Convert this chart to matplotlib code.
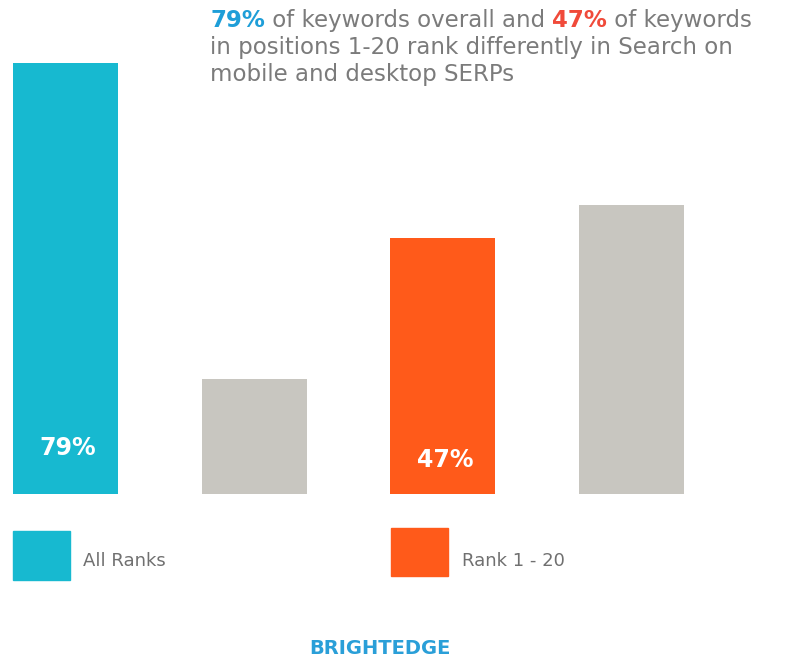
import matplotlib
matplotlib.use("Agg")
import matplotlib.pyplot as plt
from matplotlib.patches import Rectangle

plt.rcParams["font.family"] = ["DejaVu Sans"]

categories = ["All Ranks", "All Ranks (same)", "Rank 1 - 20", "Rank 1 - 20 (same)"]
values = [79, 21, 47, 53]
colors = ["#17B9D0", "#C8C6C0", "#FF5A1A", "#C8C6C0"]
bar_labels = ["79%", "", "47%", ""]
legend_labels = ["All Ranks", "Rank 1 - 20"]
legend_colors = ["#17B9D0", "#FF5A1A"]

W, H = 806, 664
fig = plt.figure(figsize=(W / 100, H / 100), dpi=100)
ax = fig.add_axes([0, 170 / H, 1, 1 - 170 / H])
x = list(range(len(values)))
ax.bar(x, values, width=0.556, color=colors)
ax.set_xlim(-65.5 / 188.7, (W - 65.5) / 188.7)
ax.set_ylim(0, 79 * 494 / 431)
ax.axis("off")

label_y = [8.5, None, 6.2, None]
for xi, lab, ly in zip(x, bar_labels, label_y):
    if lab:
        ax.text(xi + 0.01, ly, lab, color="white", fontsize=17, fontweight="bold",
                ha="center", va="center")

# Title with coloured parts
gray = "#7B7B7B"
fs = 16.5
t1 = fig.text(210 / W, 1 - 27 / H, "79%", color="#1E9ED8", fontsize=fs, fontweight="bold",
              ha="left", va="baseline")
ann2 = ax.annotate(" of keywords overall and ", xy=(1, 0), xycoords=t1, color=gray,
                   fontsize=fs, ha="left", va="bottom", annotation_clip=False)
ann3 = ax.annotate("47%", xy=(1, 0), xycoords=ann2, color="#F04A3A", fontsize=fs,
                   fontweight="bold", ha="left", va="bottom", annotation_clip=False)
ann4 = ax.annotate(" of keywords", xy=(1, 0), xycoords=ann3, color=gray, fontsize=fs,
                   ha="left", va="bottom", annotation_clip=False)
fig.text(210 / W, 1 - 54 / H, "in positions 1-20 rank differently in Search on",
         color=gray, fontsize=fs, ha="left", va="baseline")
fig.text(210 / W, 1 - 81 / H, "mobile and desktop SERPs",
         color=gray, fontsize=fs, ha="left", va="baseline")

# Legend
sq = [(13, 531, 57, 49), (391, 528, 57, 48)]
txt_x = [83, 462]
for (lx, ly, lw, lh), c, lab, tx in zip(sq, legend_colors, legend_labels, txt_x):
    fig.patches.append(Rectangle((lx / W, 1 - (ly + lh) / H), lw / W, lh / H,
                                 transform=fig.transFigure, color=c))
    fig.text(tx / W, 1 - 561 / H, lab, color="#707070", fontsize=13,
             ha="left", va="center")

fig.text(380 / W, 1 - 648 / H, "BRIGHTEDGE", color="#2A9FD8", fontsize=14,
         fontweight="bold", ha="center", va="center")

fig.savefig("out.png", dpi=100, facecolor="white")
